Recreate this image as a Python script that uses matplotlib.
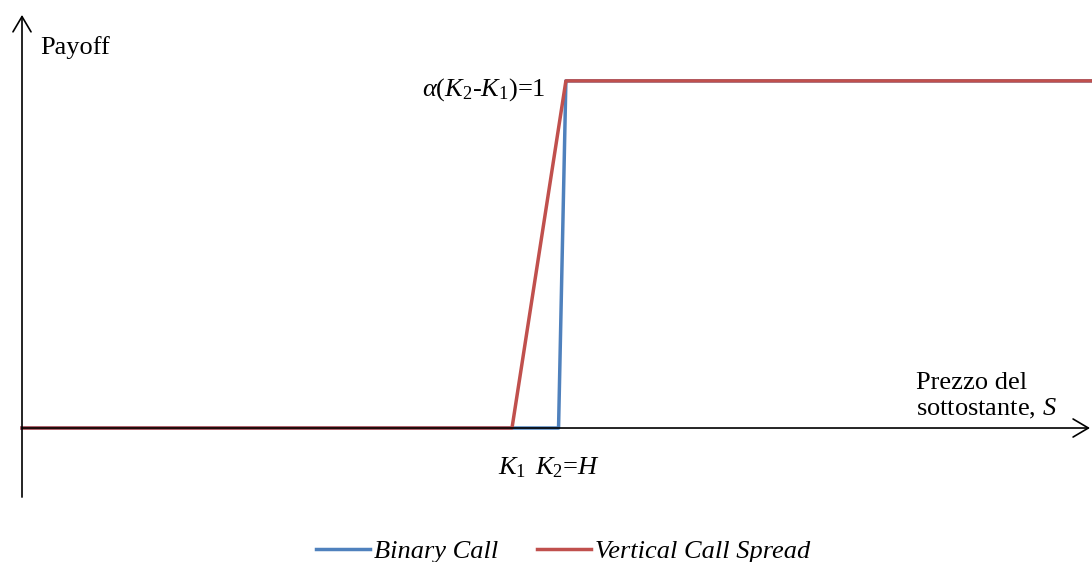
import matplotlib.pyplot as plt

plt.rcParams['font.family'] = ['Liberation Serif', 'DejaVu Serif']
plt.rcParams['mathtext.fontset'] = 'custom'
plt.rcParams['mathtext.rm'] = 'Liberation Serif'
plt.rcParams['mathtext.it'] = 'Liberation Serif:italic'

# payoff profiles (underlying price S vs payoff)
binary_s = [0, 109.5, 111, 220]
binary_payoff = [0, 0, 1, 1]
spread_s = [0, 100, 111, 220]
spread_payoff = [0, 0, 1, 1]

blue = '#4F81BD'
red = '#C0504D'
fs = 19

fig = plt.figure(figsize=(10.92, 5.62), dpi=100)
ax = fig.add_axes([0, 0, 1, 1])
ax.set_xlim(-4.49, 218.37)
ax.set_ylim(-0.386, 1.233)
ax.axis('off')

# axes with open arrow heads
arrow = dict(arrowstyle='->,head_length=1.1,head_width=0.65', color='black',
             lw=1.2, mutation_scale=10, shrinkA=0, shrinkB=0)
ax.annotate('', xy=(0, 1.19), xytext=(0, -0.199), arrowprops=arrow)
ax.annotate('', xy=(217.96, 0), xytext=(0, 0), arrowprops=arrow)

ax.plot(binary_s, binary_payoff, color=blue, lw=2.5, label='Binary Call',
        solid_joinstyle='round')
ax.plot(spread_s, spread_payoff, color=red, lw=2.5, label='Vertical Call Spread',
        solid_joinstyle='round')

ax.text(3.7, 1.095, 'Payoff', fontsize=fs, va='center')
ax.text(106.9, 0.975, r'$\alpha(K_{\mathit{2}}$-$K_{\mathit{1}})$=1', fontsize=fs,
        va='center', ha='right')
ax.text(182.4, 0.13, 'Prezzo del', fontsize=fs, va='center')
ax.text(182.4, 0.055, r'sottostante, $S$', fontsize=fs, va='center')
ax.text(97.1, -0.115, r'$K_{\mathit{1}}$', fontsize=fs, va='center')
ax.text(104.7, -0.115, r'$K_{\mathit{2}}$=$H$', fontsize=fs, va='center')

leg = ax.legend(loc='lower center', bbox_to_anchor=(0.5156, -0.044), ncol=2,
                frameon=False, handlelength=2.05, handletextpad=0.15,
                columnspacing=1.45, prop={'family': 'Liberation Serif',
                                          'style': 'italic', 'size': fs})

fig.savefig('out.png', dpi=100)
